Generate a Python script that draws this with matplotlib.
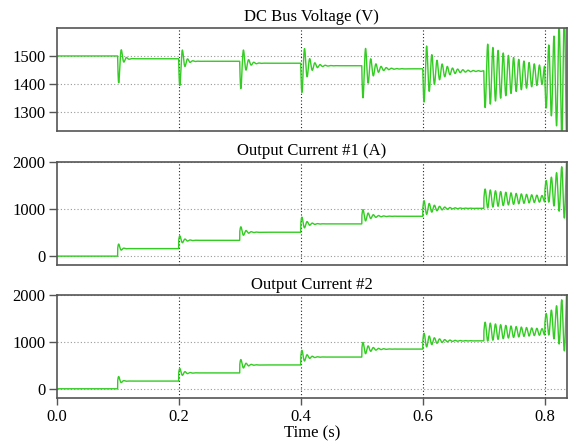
import numpy as np
import matplotlib
matplotlib.use('Agg')
import matplotlib.pyplot as plt

plt.rcParams['font.family'] = ['Liberation Serif', 'DejaVu Serif']
plt.rcParams['font.size'] = 12

# load steps every 0.1 s, then ringing at ~118 Hz after each step
step_times = [0.1, 0.2, 0.3, 0.4, 0.5, 0.6, 0.7, 0.8]
ring_hz = 118.0
t_end = 0.836

# dc bus voltage: level before/after each step, ring envelope, decay time (negative = growing)
v_levels = [1500, 1490, 1481, 1474, 1465, 1454, 1446, 1432, 1420]
v_swing = [134, 124, 123, 118, 123, 123, 120, 100]
v_decay = [0.0043, 0.0055, 0.0065, 0.0096, 0.012, 0.02, 0.075, -0.036]

# output currents
i1_levels = [0, 160, 337, 510, 688, 851, 1021, 1225, 1400]
i2_levels = [0, 165, 340, 511, 680, 851, 1028, 1220, 1400]
i_swing = [160, 126, 151, 184, 170, 182, 212, 199]
i_decay = [0.0038, 0.0069, 0.0074, 0.008, 0.0116, 0.0186, 0.085, -0.0294]

titles = ['DC Bus Voltage (V)', 'Output Current #1 (A)', 'Output Current #2']
green = '#33cc22'

t = np.linspace(0, t_end, 8000)


def waveform(levels, swing, decay, sign):
    y = np.full_like(t, float(levels[0]))
    for k, t0 in enumerate(step_times):
        m = t >= t0
        dt = t[m] - t0
        y[m] = levels[k + 1] + sign * swing[k] * np.exp(-dt / decay[k]) * np.sin(2 * np.pi * ring_hz * dt)
    return y


v = waveform(v_levels, v_swing, v_decay, -1)
i1 = waveform(i1_levels, i_swing, i_decay, 1)
i2 = waveform(i2_levels, i_swing, i_decay, 1)

fig = plt.figure(figsize=(5.72, 4.45), dpi=100)
boxes = [(0.706, 0.937), (0.404, 0.635), (0.106, 0.336)]
series = [v, i1, i2]
ylims = [(1232, 1600), (-194, 2000), (-194, 2000)]
yticks = [[1300, 1400, 1500], [0, 1000, 2000], [0, 1000, 2000]]

for n in range(3):
    b0, b1 = boxes[n]
    ax = fig.add_axes([0.099, b0, 0.892, b1 - b0])
    ax.plot(t, series[n], color=green, lw=1.0)
    ax.set_xlim(0, t_end)
    ax.set_ylim(*ylims[n])
    ax.set_yticks(yticks[n])
    ax.set_xticks([0.0, 0.2, 0.4, 0.6, 0.8])
    for yy in yticks[n]:
        ax.axhline(yy, color='#999999', lw=0.8, ls=(0, (1, 2)), zorder=0)
    for xx in [0.2, 0.4, 0.6, 0.8]:
        ax.axvline(xx, color='#222222', lw=0.8, ls=(0, (1, 2)), zorder=0)
    for s in ax.spines.values():
        s.set_color('#555555')
        s.set_linewidth(1.2)
    ax.tick_params(axis='y', direction='out', length=6, width=1, color='#555555', pad=2)
    ax.tick_params(axis='x', direction='out', length=5, width=1, color='#555555', pad=3)
    ax.set_title(titles[n], fontsize=12, pad=5)
    if n < 2:
        ax.tick_params(axis='x', length=0, labelbottom=False)
    else:
        ax.set_xticklabels(['0.0', '0.2', '0.4', '0.6', '0.8'])
        ax.set_xlabel('Time (s)', labelpad=0)

fig.savefig('out.png', dpi=100)
